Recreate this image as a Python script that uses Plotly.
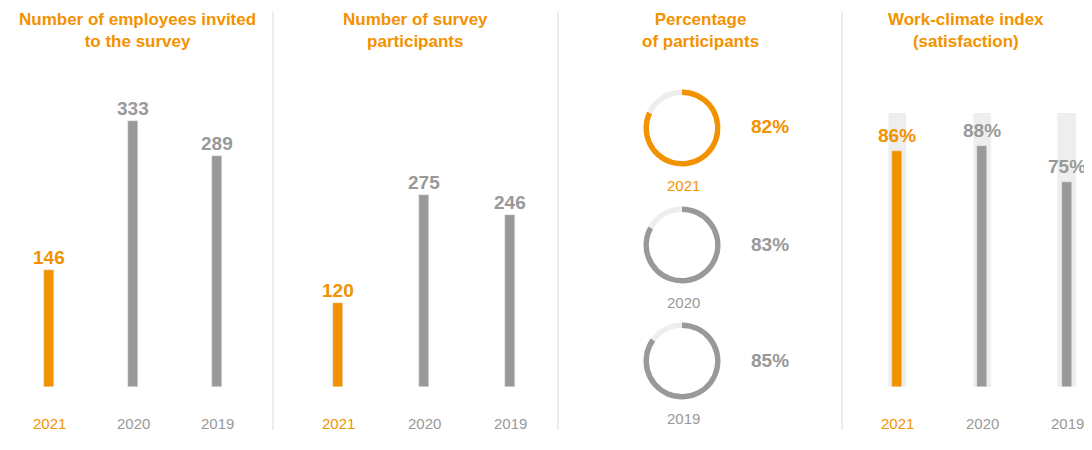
import plotly.graph_objects as go

# ===========================
# Data
# ===========================
years = ['2021', '2020', '2019']
invited = [146, 333, 289]
participants = [120, 275, 246]
participation_pct = [82, 83, 85]
satisfaction = [86, 88, 75]

titles = [
    'Number of employees invited<br>to the survey',
    'Number of survey<br>participants',
    'Percentage<br>of participants',
    'Work-climate index<br>(satisfaction)',
]

ORANGE = '#F39200'
GRAY = '#999999'
LIGHT = '#EEEFED'
FONT = 'Liberation Sans, Arial, sans-serif'
OFF = 8  # page body margin
W, H = 1092 - OFF, 450 - OFF

colors = [ORANGE if y == '2021' else GRAY for y in years]


def px_x(p):
    return (p - OFF) / W


def px_y(p):
    return 1 - (p - OFF) / H


fig = go.Figure()

# ===========================
# Bar panels
# ===========================
fig.add_trace(go.Bar(x=years, y=invited, marker_color=colors, width=0.12,
                     xaxis='x', yaxis='y', hoverinfo='skip'))
fig.add_trace(go.Bar(x=years, y=participants, marker_color=colors, width=0.12,
                     xaxis='x2', yaxis='y2', hoverinfo='skip'))
fig.add_trace(go.Bar(x=years, y=[100] * len(years), marker_color=LIGHT, width=0.21,
                     xaxis='x3', yaxis='y3', hoverinfo='skip'))
fig.add_trace(go.Bar(x=years, y=satisfaction, marker_color=colors, width=0.118,
                     xaxis='x3', yaxis='y3', hoverinfo='skip'))

annotations = []
for xa, vals, fmt, shift in [('x', invited, '{}', 0), ('x2', participants, '{}', 0),
                             ('x3', satisfaction, '{}%', 3)]:
    ya = 'y' + xa[1:]
    for i, (yr, v, c) in enumerate(zip(years, vals, colors)):
        annotations.append(dict(x=i, y=v, xref=xa, yref=ya, text=fmt.format(v),
                                showarrow=False, xanchor='center', yanchor='bottom', yshift=shift,
                                font=dict(family=FONT, size=19, color=c, weight='bold')))
        annotations.append(dict(x=i, y=px_y(423), xref=xa, yref='paper', text=yr,
                                showarrow=False, xanchor='center', yanchor='middle',
                                font=dict(family=FONT, size=15, color=c)))

# ===========================
# Donuts
# ===========================
centers_y = [128, 245, 361]
R = 38.5
for yr, v, c, cy in zip(years, participation_pct, colors, centers_y):
    fig.add_trace(go.Pie(values=[v, 100 - v], marker=dict(colors=[c, LIGHT], line=dict(width=0)),
                         hole=0.86, sort=False, direction='clockwise', rotation=0,
                         textinfo='none', hoverinfo='skip', showlegend=False,
                         domain=dict(x=[px_x(682 - R), px_x(682 + R)],
                                     y=[px_y(cy + R), px_y(cy - R)])))
    annotations.append(dict(x=px_x(770), y=px_y(cy - 1), xref='paper', yref='paper',
                            text=f'{v}%', showarrow=False, xanchor='center', yanchor='middle',
                            font=dict(family=FONT, size=19, color=c, weight='bold')))
    annotations.append(dict(x=px_x(683), y=px_y(cy + 57), xref='paper', yref='paper',
                            text=yr, showarrow=False, xanchor='center', yanchor='middle',
                            font=dict(family=FONT, size=15, color=c)))

# ===========================
# Titles and dividers
# ===========================
for t, cx in zip(titles, [137, 415, 700, 966]):
    annotations.append(dict(x=px_x(cx), y=px_y(30), xref='paper', yref='paper', text=t,
                            showarrow=False, xanchor='center', yanchor='middle',
                            font=dict(family=FONT, size=17, color=ORANGE, weight='bold')))

shapes = [dict(type='line', xref='paper', yref='paper', x0=px_x(x), x1=px_x(x),
               y0=px_y(12), y1=px_y(430), line=dict(color='#DADADA', width=1))
          for x in [273, 558, 842]]

bottom = px_y(387)
hidden = dict(showgrid=False, zeroline=False, showline=False, showticklabels=False,
              ticks='', fixedrange=True)
fig.update_layout(
    width=W, height=H, margin=dict(l=0, r=0, t=0, b=0),
    paper_bgcolor='white', plot_bgcolor='rgba(0,0,0,0)',
    showlegend=False, barmode='overlay', bargap=0,
    xaxis=dict(domain=[px_x(8), px_x(260)], range=[-41 / 84, 3 - 41 / 84],
               type='category', **hidden),
    yaxis=dict(domain=[bottom, px_y(387 - 0.8 * 400)], range=[0, 400], **hidden),
    xaxis2=dict(domain=[px_x(295), px_x(553)], range=[-0.5, 2.5], type='category', **hidden),
    yaxis2=dict(domain=[bottom, px_y(387 - 0.7 * 400)], range=[0, 400], **hidden),
    xaxis3=dict(domain=[px_x(855), 1], range=[-0.5, 2.29], type='category', **hidden),
    yaxis3=dict(domain=[bottom, px_y(113)], range=[0, 100], **hidden),
    annotations=annotations, shapes=shapes,
)

fig.write_html('out.html')
